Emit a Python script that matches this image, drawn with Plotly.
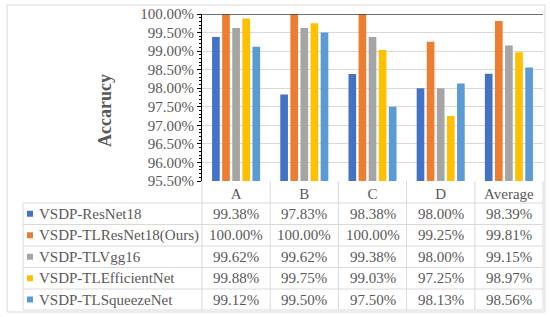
import plotly.graph_objects as go

categories = ["A", "B", "C", "D", "Average"]
series_names = ["VSDP-ResNet18", "VSDP-TLResNet18(Ours)", "VSDP-TLVgg16",
                "VSDP-TLEfficientNet", "VSDP-TLSqueezeNet"]
resnet18 = [99.38, 97.83, 98.38, 98.00, 98.39]
tlresnet18 = [100.00, 100.00, 100.00, 99.25, 99.81]
tlvgg16 = [99.62, 99.62, 99.38, 98.00, 99.15]
tlefficientnet = [99.88, 99.75, 99.03, 97.25, 98.97]
tlsqueezenet = [99.12, 99.50, 97.50, 98.13, 98.56]
series_values = [resnet18, tlresnet18, tlvgg16, tlefficientnet, tlsqueezenet]
colors = ["#4472C4", "#ED7D31", "#A5A5A5", "#FFC000", "#5B9BD5"]

W, H = 550, 317
L, R, T, B = 202, 543, 14, 181  # plot area in px

def px_x(px):
    return (px - L) / (R - L)

def px_y(py):
    return (B - py) / (B - T)

FONT = "Liberation Serif, Times New Roman, serif"
TXT = "#595959"
GRID = "#D9D9D9"

fig = go.Figure()
for name, vals, col in zip(series_names, series_values, colors):
    fig.add_trace(go.Bar(x=categories, y=vals, name=name, marker_color=col,
                         marker_line_width=0, showlegend=False))

shapes = []
annotations = []

# outer frame
shapes.append(dict(type="rect", xref="paper", yref="paper",
                   x0=px_x(7), x1=px_x(545), y0=px_y(5), y1=px_y(312),
                   line=dict(color=GRID, width=1)))
# top dark line at 100%
shapes.append(dict(type="line", xref="paper", yref="y", x0=0, x1=1, y0=100, y1=100,
                   line=dict(color="#404040", width=1.3)))

# table geometry
row_lines = [203, 224.5, 246, 267.5, 289, 310]
col_w = (R - L) / len(categories)
col_edges = [L + i * col_w for i in range(len(categories) + 1)]
for yl in row_lines:
    shapes.append(dict(type="line", xref="paper", yref="paper",
                       x0=px_x(23), x1=px_x(R), y0=px_y(yl), y1=px_y(yl),
                       line=dict(color=GRID, width=1)))
shapes.append(dict(type="line", xref="paper", yref="paper",
                   x0=px_x(23), x1=px_x(23), y0=px_y(203), y1=px_y(310),
                   line=dict(color=GRID, width=1)))
for xe in col_edges:
    shapes.append(dict(type="line", xref="paper", yref="paper",
                       x0=px_x(xe), x1=px_x(xe), y0=px_y(B), y1=px_y(310),
                       line=dict(color=GRID, width=1)))

for i, (name, vals, col) in enumerate(zip(series_names, series_values, colors)):
    yc = (row_lines[i] + row_lines[i + 1]) / 2
    shapes.append(dict(type="rect", xref="paper", yref="paper",
                       x0=px_x(27), x1=px_x(33), y0=px_y(yc - 3), y1=px_y(yc + 3),
                       fillcolor=col, line=dict(width=0)))
    annotations.append(dict(xref="paper", yref="paper", x=px_x(37), y=px_y(yc),
                            text=name, showarrow=False, xanchor="left", yanchor="middle",
                            font=dict(family=FONT, size=15, color=TXT)))
    for cat, v in zip(categories, vals):
        annotations.append(dict(xref="x", yref="paper", x=cat, y=px_y(yc),
                                text=f"{v:.2f}%", showarrow=False,
                                xanchor="center", yanchor="middle",
                                font=dict(family=FONT, size=15, color=TXT)))

# axis title
annotations.append(dict(xref="paper", yref="paper", x=px_x(105), y=px_y(110),
                        text="<b>Accarucy</b>", textangle=-90, showarrow=False,
                        xanchor="center", yanchor="middle",
                        font=dict(family=FONT, size=18, color=TXT)))

fig.update_layout(
    width=W, height=H,
    margin=dict(l=L, r=W - R, t=T, b=H - B, pad=0),
    paper_bgcolor="white", plot_bgcolor="white",
    barmode="group", bargap=0.26, bargroupgap=0.24,
    shapes=shapes, annotations=annotations,
    showlegend=False,
    xaxis=dict(showgrid=False, showline=False, ticks="", zeroline=False,
               ticklabelstandoff=2,
               tickfont=dict(family=FONT, size=15, color=TXT)),
    yaxis=dict(range=[95.5, 100], dtick=0.5, tickformat=".2f", ticksuffix="%",
               showgrid=True, gridcolor=GRID, gridwidth=1, zeroline=False,
               showline=True, linecolor="black", linewidth=1,
               ticks="outside", ticklen=4, tickcolor="black",
               minor=dict(dtick=0.1, ticks="outside", ticklen=2, tickcolor="black",
                          showgrid=False),
               tickfont=dict(family=FONT, size=15, color=TXT)),
)

fig.write_html("out.html", config={"displayModeBar": False},
               post_script="document.body.style.margin='0';document.body.style.padding='0';")
